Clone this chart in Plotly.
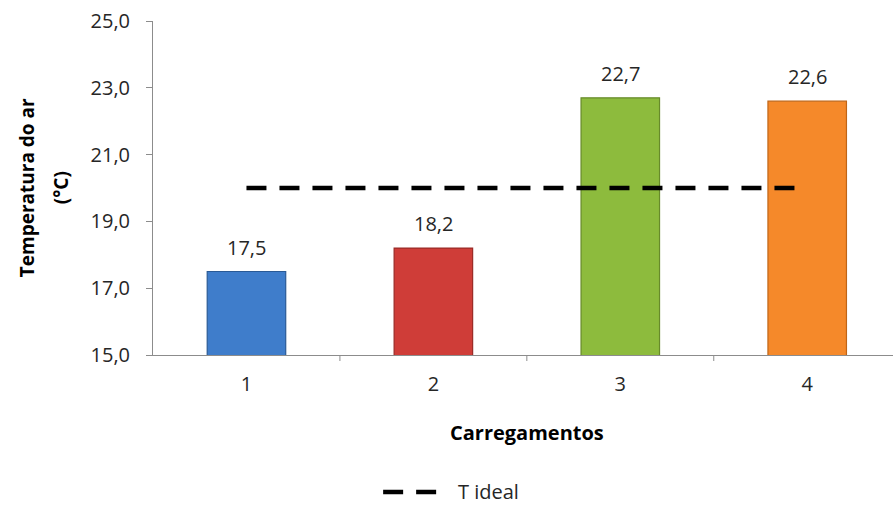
import plotly.graph_objects as go

# Air temperature per loading (carregamento) against the ideal temperature
carregamentos = [1, 2, 3, 4]
temperatura = [17.5, 18.2, 22.7, 22.6]
t_ideal = [20.0, 20.0, 20.0, 20.0]
tick_labels = ["1", "2", "3", "4"]

bar_colors = ["#3f7dcb", "#cf3d38", "#8dbb3d", "#f5892a"]
bar_edges = ["#2a5a96", "#9a2a26", "#678a2a", "#c06516"]

FONT = "'Open Sans', sans-serif"
AXIS_GRAY = "#8c8c8c"
LABEL_GRAY = "#262626"
DASH = "20px,13px"

fig = go.Figure()

fig.add_trace(go.Bar(
    x=carregamentos,
    y=temperatura,
    base=0,
    width=0.42,
    marker=dict(color=bar_colors, line=dict(color=bar_edges, width=1.2)),
    showlegend=False,
    hoverinfo="skip",
))

fig.add_trace(go.Scatter(
    x=carregamentos,
    y=t_ideal,
    mode="lines",
    name="T ideal",
    showlegend=False,
    line=dict(color="#000000", width=4.5, dash=DASH),
))

# Value labels above each bar
for xv, yv in zip(carregamentos, temperatura):
    fig.add_annotation(
        x=xv, y=yv, xref="x", yref="y",
        text=f"{yv:.1f}".replace(".", ","),
        showarrow=False, yanchor="bottom", yshift=9,
        font=dict(family=FONT, size=20, color=LABEL_GRAY),
    )

fig.update_layout(
    width=893,
    height=508,
    margin=dict(l=153, r=0, t=21, b=153),
    paper_bgcolor="white",
    plot_bgcolor="white",
    separators=",.",
    font=dict(family=FONT, size=20, color=LABEL_GRAY),
    showlegend=False,
    xaxis=dict(
        range=[0.5, 4.459],
        tickmode="array",
        tickvals=carregamentos,
        ticktext=tick_labels,
        ticks="",
        ticklabelstandoff=11,
        showgrid=False,
        showline=True,
        linecolor=AXIS_GRAY,
        linewidth=1,
        zeroline=False,
        tickfont=dict(family=FONT, size=20, color=LABEL_GRAY),
    ),
    yaxis=dict(
        range=[15, 25],
        dtick=2,
        tick0=15,
        tickformat=".1f",
        ticks="outside",
        ticklen=6,
        tickcolor=AXIS_GRAY,
        ticklabelstandoff=12,
        showgrid=False,
        showline=True,
        linecolor=AXIS_GRAY,
        linewidth=1,
        zeroline=False,
        tickfont=dict(family=FONT, size=20, color=LABEL_GRAY),
    ),
)

# Category boundary tick marks below the x axis line
for b in [1.5, 2.5, 3.5]:
    fig.add_shape(type="line", xref="x", yref="paper", x0=b, x1=b, y0=0, y1=-0.018,
                  line=dict(color=AXIS_GRAY, width=1))

# Legend entry for the ideal temperature line
fig.add_shape(type="line", xref="paper", yref="paper",
              x0=0.311, x1=0.385, y0=-0.410, y1=-0.410,
              line=dict(color="#000000", width=4.5, dash=DASH))
fig.add_annotation(
    text="T ideal", xref="paper", yref="paper",
    x=0.410, y=-0.410, xanchor="left", yanchor="middle",
    showarrow=False,
    font=dict(family=FONT, size=20, color=LABEL_GRAY),
)

# Axis titles
fig.add_annotation(
    text="Carregamentos",
    xref="x", yref="paper",
    x=2.5, y=-0.232, yanchor="middle",
    showarrow=False,
    font=dict(family=FONT, size=20, color="#000000", weight="bold"),
)
fig.add_annotation(
    text="Temperatura do ar",
    xref="paper", yref="paper",
    x=-0.170, y=0.5, xanchor="center", yanchor="middle",
    textangle=-90, showarrow=False,
    font=dict(family=FONT, size=19, color="#000000", weight="bold"),
)
fig.add_annotation(
    text="(°C)",
    xref="paper", yref="paper",
    x=-0.124, y=0.5, xanchor="center", yanchor="middle",
    textangle=-90, showarrow=False,
    font=dict(family=FONT, size=19, color="#000000", weight="bold"),
)

fig.write_html("out.html")
